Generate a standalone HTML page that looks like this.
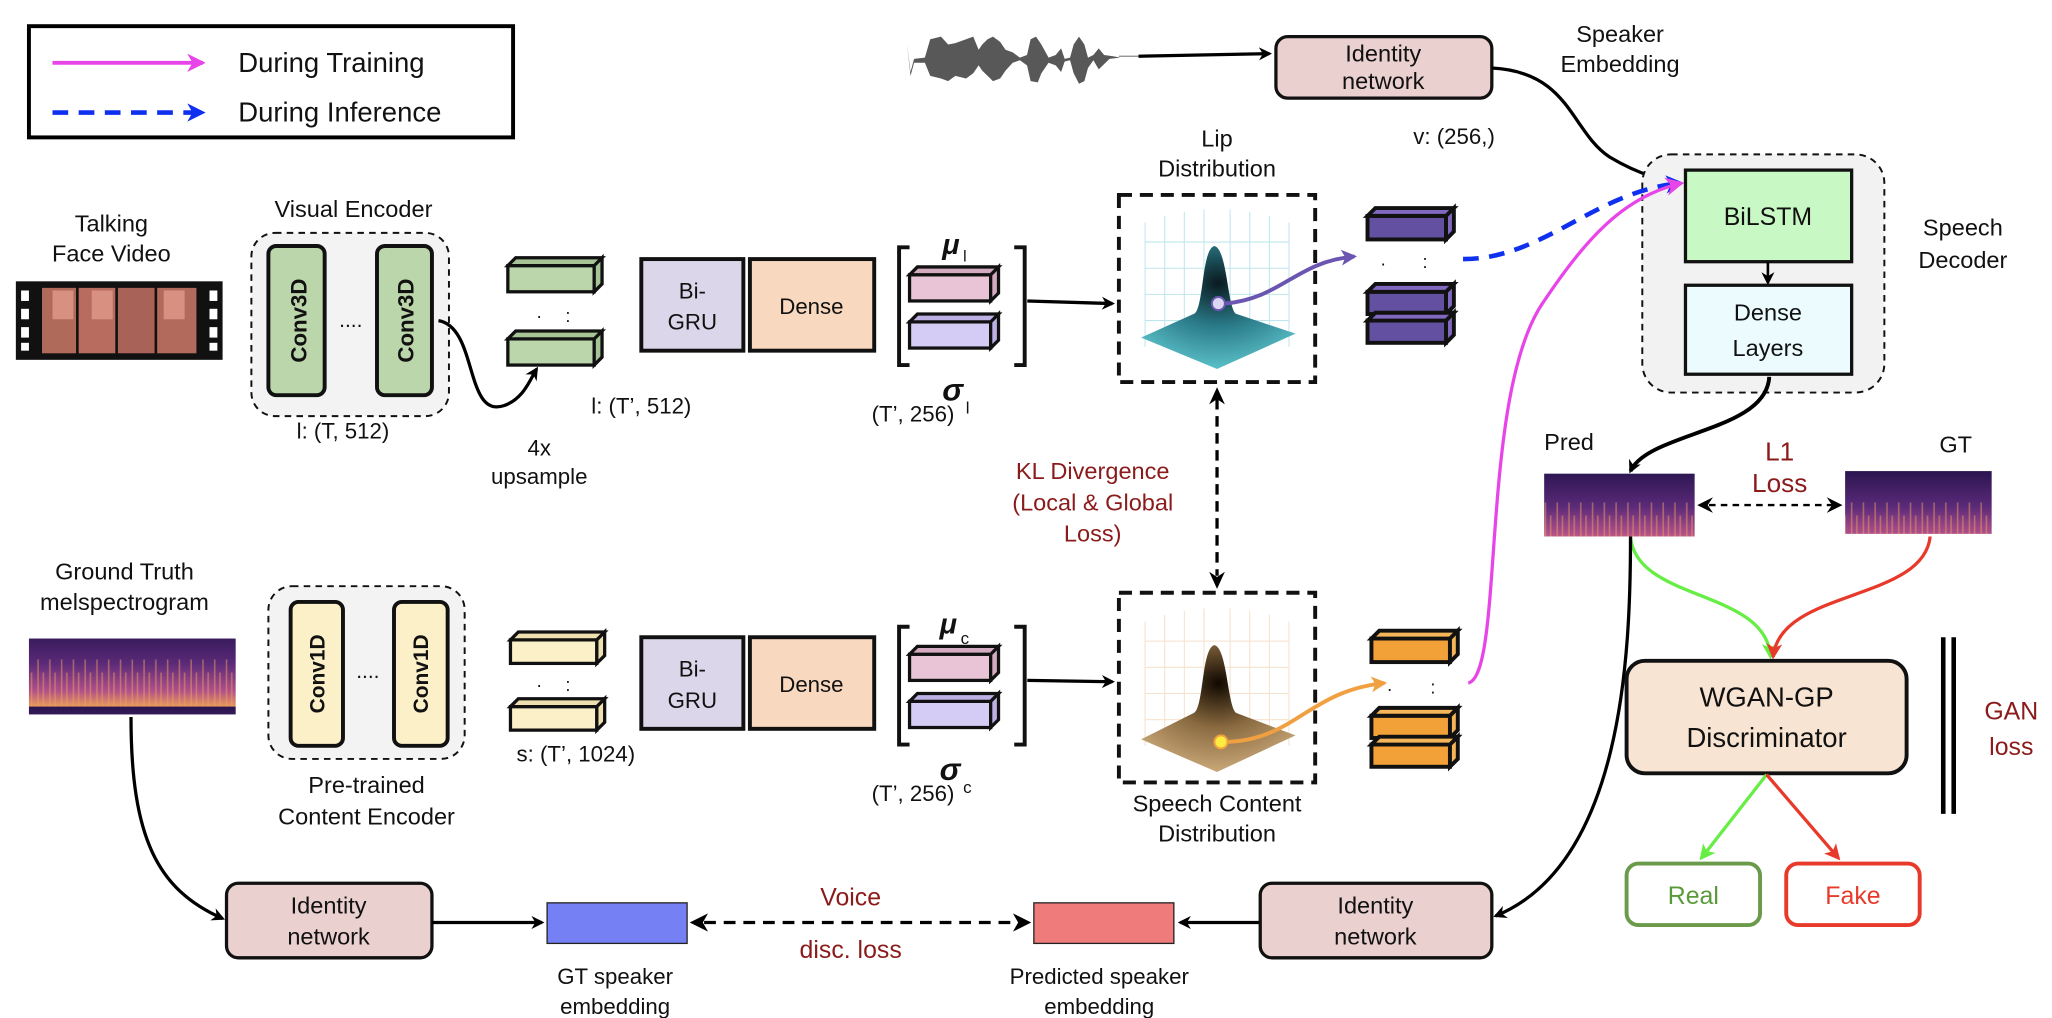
<!DOCTYPE html>
<html><head><meta charset="utf-8"><style>
html,body{margin:0;padding:0;background:#fff}
svg{display:block}
text{font-family:"Liberation Sans","DejaVu Sans",sans-serif;fill:#111}
.r{fill:#8b1a1a}
</style></head><body>
<svg width="2052" height="1018" viewBox="0 0 1568 778" xmlns="http://www.w3.org/2000/svg">
<defs>
<marker id="ak" markerWidth="10" markerHeight="10" refX="8" refY="5" orient="auto" markerUnits="userSpaceOnUse"><path d="M0,0 L10,5 L0,10 L3,5z" fill="#000"/></marker>
<marker id="am" markerWidth="14" markerHeight="14" refX="12" refY="7" orient="auto" markerUnits="userSpaceOnUse"><path d="M0,0 L14,7 L0,14 L4,7z" fill="#e845e8"/></marker>
<marker id="ab" markerWidth="14" markerHeight="14" refX="12" refY="7" orient="auto" markerUnits="userSpaceOnUse"><path d="M0,0 L14,7 L0,14 L4,7z" fill="#1030f0"/></marker>
<marker id="ag" markerWidth="12" markerHeight="12" refX="10" refY="6" orient="auto" markerUnits="userSpaceOnUse"><path d="M0,0 L12,6 L0,12 L3,6z" fill="#66ee44"/></marker>
<marker id="ar" markerWidth="12" markerHeight="12" refX="10" refY="6" orient="auto" markerUnits="userSpaceOnUse"><path d="M0,0 L12,6 L0,12 L3,6z" fill="#e83a2a"/></marker>
<marker id="ap" markerWidth="12" markerHeight="12" refX="10" refY="6" orient="auto" markerUnits="userSpaceOnUse"><path d="M0,0 L12,6 L0,12 L3,6z" fill="#6a55b0"/></marker>
<marker id="ao" markerWidth="12" markerHeight="12" refX="10" refY="6" orient="auto" markerUnits="userSpaceOnUse"><path d="M0,0 L12,6 L0,12 L3,6z" fill="#f0a040"/></marker>
<linearGradient id="mel" x1="0" x2="0" y1="0" y2="1"><stop offset="0" stop-color="#2a1550"/><stop offset="0.45" stop-color="#5a2a78"/><stop offset="0.8" stop-color="#b0508a"/><stop offset="1" stop-color="#e89a5a"/></linearGradient>
<pattern id="melp" width="9" height="60" patternUnits="userSpaceOnUse"><rect width="9" height="60" fill="url(#mel)"/><path d="M2,24 v36 M6,34 v26" stroke="#f0a060" stroke-width="1.2" opacity="0.5"/></pattern>
<radialGradient id="lipg" cx="0.5" cy="0.3" r="0.7"><stop offset="0" stop-color="#0a1a20"/><stop offset="0.5" stop-color="#2a7a88"/><stop offset="1" stop-color="#5ac0c8"/></radialGradient>
<radialGradient id="spg" cx="0.5" cy="0.3" r="0.7"><stop offset="0" stop-color="#100800"/><stop offset="0.5" stop-color="#8a6a40"/><stop offset="1" stop-color="#c8a878"/></radialGradient>
</defs>

<!-- Legend -->
<rect x="22" y="20" width="370" height="85" fill="#fff" stroke="#000" stroke-width="3"/>
<line x1="40" y1="48" x2="155" y2="48" stroke="#e845e8" stroke-width="3" marker-end="url(#am)"/>
<line x1="40" y1="86" x2="155" y2="86" stroke="#1030f0" stroke-width="3.5" stroke-dasharray="12,8" marker-end="url(#ab)"/>
<text x="182" y="55" font-size="21">During Training</text>
<text x="182" y="93" font-size="21">During Inference</text>

<!-- waveform -->
<g fill="#585858" transform="translate(693,0) scale(1.37,1) translate(-693,0)">
<path d="M693,33 L695,55 L697,45 L703,44 L706,30 L712,28 L716,34 L720,33 L726,30 L730,28 L733,38 L735,34 L738,30 L741,28 L745,32 L748,38 L752,40 L756,44 L760,42 L762,30 L765,28 L768,34 L772,44 L776,42 L779,37 L781,45 L784,44 L786,34 L789,28 L792,34 L794,44 L797,42 L800,37 L803,42 L808,43 L812,44 L806,45 L803,49 L800,53 L797,46 L794,52 L792,62 L789,64 L786,56 L784,46 L781,47 L779,55 L776,50 L772,48 L768,56 L766,63 L762,62 L760,50 L756,46 L752,48 L748,54 L745,60 L741,62 L738,58 L735,54 L733,50 L730,56 L726,60 L720,58 L716,62 L712,60 L706,58 L703,48 L697,48 L695,58 Z"/>
</g>
<line x1="855" y1="43" x2="870" y2="43" stroke="#888" stroke-width="1"/>
<line x1="870" y1="43" x2="970" y2="41" stroke="#000" stroke-width="2.5" marker-end="url(#ak)"/>

<!-- identity top -->
<rect x="975" y="28" width="165" height="47" rx="9" fill="#ead0cf" stroke="#111" stroke-width="2.5"/>
<text x="1057" y="47" font-size="18" text-anchor="middle">Identity</text>
<text x="1057" y="68" font-size="18" text-anchor="middle">network</text>
<text x="1238" y="32" font-size="18" text-anchor="middle">Speaker</text>
<text x="1238" y="55" font-size="18" text-anchor="middle">Embedding</text>
<text x="1080" y="110" font-size="17">v: (256,)</text>
<path d="M1140,52 C1200,55 1200,100 1230,120 C1250,132 1268,138 1286,140" stroke="#000" stroke-width="2.5" fill="none" marker-end="url(#ak)"/>

<!-- speech decoder -->
<rect x="1255" y="118" width="185" height="182" rx="22" fill="#f2f2f2" stroke="#111" stroke-width="1.5" stroke-dasharray="5,4"/>
<rect x="1288" y="130" width="127" height="70" fill="#c8f8c4" stroke="#111" stroke-width="2.5"/>
<text x="1351" y="172" font-size="19" text-anchor="middle">BiLSTM</text>
<line x1="1351" y1="200" x2="1351" y2="216" stroke="#000" stroke-width="2" marker-end="url(#ak)"/>
<rect x="1288" y="218" width="127" height="68" fill="#ecfcfe" stroke="#111" stroke-width="2.5"/>
<text x="1351" y="245" font-size="18" text-anchor="middle">Dense</text>
<text x="1351" y="272" font-size="18" text-anchor="middle">Layers</text>
<text x="1500" y="180" font-size="18" text-anchor="middle">Speech</text>
<text x="1500" y="205" font-size="18" text-anchor="middle">Decoder</text>

<!-- visual row -->
<text x="85" y="177" font-size="18" text-anchor="middle">Talking</text>
<text x="85" y="200" font-size="18" text-anchor="middle">Face Video</text>
<rect x="12" y="215" width="158" height="60" fill="#111"/>
<rect x="32" y="220" width="26" height="50" fill="#b06a5a"/><rect x="60" y="220" width="28" height="50" fill="#b86c60"/>
<rect x="90" y="220" width="28" height="50" fill="#a86258"/><rect x="120" y="220" width="30" height="50" fill="#b26a5c"/>
<rect x="40" y="222" width="16" height="22" fill="#d89080"/><rect x="70" y="222" width="16" height="22" fill="#d89080"/><rect x="125" y="222" width="16" height="22" fill="#d89080"/>
<g fill="#fff"><rect x="16" y="222" width="6" height="8"/><rect x="16" y="236" width="6" height="8"/><rect x="16" y="250" width="6" height="8"/><rect x="16" y="262" width="6" height="6"/><rect x="160" y="222" width="6" height="8"/><rect x="160" y="236" width="6" height="8"/><rect x="160" y="250" width="6" height="8"/><rect x="160" y="262" width="6" height="6"/></g>

<text x="270" y="166" font-size="18" text-anchor="middle">Visual Encoder</text>
<rect x="192" y="178" width="151" height="140" rx="18" fill="#f3f3f3" stroke="#111" stroke-width="1.5" stroke-dasharray="5,4"/>
<rect x="205" y="188" width="43" height="114" rx="6" fill="#bcd6ac" stroke="#111" stroke-width="3"/>
<rect x="288" y="188" width="42" height="114" rx="6" fill="#bcd6ac" stroke="#111" stroke-width="3"/>
<text transform="translate(234,245) rotate(-90)" font-size="17" font-weight="bold" text-anchor="middle">Conv3D</text>
<text transform="translate(316,245) rotate(-90)" font-size="17" font-weight="bold" text-anchor="middle">Conv3D</text>
<text x="268" y="250" font-size="16" text-anchor="middle">....</text>
<text x="262" y="335" font-size="17" text-anchor="middle">l: (T, 512)</text>

<g stroke="#111" stroke-width="2.5">
<rect x="388" y="203" width="66" height="20" fill="#bcd6ac"/><path d="M388,203 l6,-6 h66 l-6,6 z M454,223 l6,-6 v-20 l-6,6 z" fill="#a6c496"/>
<rect x="388" y="259" width="66" height="20" fill="#bcd6ac"/><path d="M388,259 l6,-6 h66 l-6,6 z M454,279 l6,-6 v-20 l-6,6 z" fill="#a6c496"/>
</g>
<text x="410" y="243" font-size="14">.</text><text x="432" y="246" font-size="14">:</text>
<path d="M335,245 C365,250 355,320 385,310 C400,305 405,290 410,282" stroke="#000" stroke-width="2.5" fill="none" marker-end="url(#ak)"/>
<text x="490" y="316" font-size="17" text-anchor="middle">l: (T’, 512)</text>
<text x="412" y="348" font-size="17" text-anchor="middle">4x</text>
<text x="412" y="370" font-size="17" text-anchor="middle">upsample</text>

<rect x="490" y="198" width="78" height="70" fill="#dcd6ea" stroke="#111" stroke-width="3"/>
<text x="529" y="228" font-size="17" text-anchor="middle">Bi-</text><text x="529" y="252" font-size="17" text-anchor="middle">GRU</text>
<rect x="573" y="198" width="95" height="70" fill="#f8d8bf" stroke="#111" stroke-width="3"/>
<text x="620" y="240" font-size="17" text-anchor="middle">Dense</text>

<path d="M695,189 h-8 v90 h8 M775,189 h8 v90 h-8" stroke="#111" stroke-width="3" fill="none"/>
<g stroke="#111" stroke-width="2.5">
<rect x="695" y="210" width="62" height="20" fill="#e8c4d6"/><path d="M695,210 l6,-6 h62 l-6,6 z M757,230 l6,-6 v-20 l-6,6 z" fill="#d4aac0"/>
<rect x="695" y="246" width="62" height="20" fill="#d4ccf4"/><path d="M695,246 l6,-6 h62 l-6,6 z M757,266 l6,-6 v-20 l-6,6 z" fill="#bcb0e4"/>
</g>
<text x="720" y="194" font-size="22" font-weight="bold" font-style="italic">μ</text><text x="736" y="200" font-size="12">l</text>
<text x="720" y="306" font-size="24" font-weight="bold" font-style="italic">σ</text><text x="738" y="316" font-size="13">l</text>
<text x="666" y="322" font-size="17">(T’, 256)</text>
<line x1="785" y1="230" x2="850" y2="232" stroke="#000" stroke-width="2.5" marker-end="url(#ak)"/>

<!-- lip dist -->
<text x="930" y="112" font-size="18" text-anchor="middle">Lip</text>
<text x="930" y="135" font-size="18" text-anchor="middle">Distribution</text>
<rect x="855" y="149" width="150" height="143" fill="#fff" stroke="#111" stroke-width="3" stroke-dasharray="10,6"/>
<g stroke="#bfe6ee" stroke-width="0.8" fill="none"><path d="M875,170 v95 M890,165 v95 M905,162 v95 M920,160 v95 M940,160 v95 M955,162 v95 M970,165 v95 M985,170 v95 M875,185 h110 M875,205 h110 M875,225 h110 M875,245 h110"/></g>
<path d="M872,258 L930,282 L990,255 L945,240 C938,238 938,190 928,188 C918,190 920,238 912,240 Z" fill="url(#lipg)"/>
<circle cx="931" cy="232" r="5" fill="#ddd6f0" stroke="#6a55b0" stroke-width="1.5"/>
<path d="M936,232 C980,228 990,200 1035,196" stroke="#6a55b0" stroke-width="3" fill="none" marker-end="url(#ap)"/>
<g stroke="#111" stroke-width="3">
<rect x="1045" y="165" width="60" height="18" fill="#6350a0"/><path d="M1045,165 l6,-6 h60 l-6,6 z M1105,183 l6,-6 v-18 l-6,6 z" fill="#8068c0"/>
<rect x="1045" y="223" width="60" height="17" fill="#6350a0"/><path d="M1045,223 l6,-6 h60 l-6,6 z M1105,240 l6,-6 v-17 l-6,6 z" fill="#8068c0"/>
<rect x="1045" y="245" width="60" height="17" fill="#6350a0"/><path d="M1045,245 l6,-6 h60 l-6,6 z M1105,262 l6,-6 v-17 l-6,6 z" fill="#8068c0"/>
</g>
<text x="1055" y="203" font-size="14">.</text><text x="1087" y="205" font-size="14">:</text>
<path d="M1118,198 C1180,198 1220,145 1285,140" stroke="#1030f0" stroke-width="3.5" fill="none" stroke-dasharray="12,8" marker-end="url(#ab)"/>

<!-- KL -->
<text x="835" y="366" font-size="18" text-anchor="middle" class="r">KL Divergence</text>
<text x="835" y="390" font-size="18" text-anchor="middle" class="r">(Local &amp; Global</text>
<text x="835" y="414" font-size="18" text-anchor="middle" class="r">Loss)</text>
<line x1="930" y1="305" x2="930" y2="440" stroke="#000" stroke-width="2.5" stroke-dasharray="8,5"/>
<path d="M930,296 l-6,13 l6,-4 l6,4z M930,450 l-6,-13 l6,4 l6,-4z" fill="#000"/>

<!-- speech dist -->
<rect x="855" y="453" width="150" height="145" fill="#fff" stroke="#111" stroke-width="3" stroke-dasharray="10,6"/>
<g stroke="#f6e2cc" stroke-width="0.8" fill="none"><path d="M875,475 v95 M890,470 v95 M905,467 v95 M920,465 v95 M940,465 v95 M955,467 v95 M970,470 v95 M985,475 v95 M875,490 h110 M875,510 h110 M875,530 h110 M875,550 h110"/></g>
<path d="M872,565 L930,590 L990,562 L945,545 C938,542 938,495 928,493 C918,495 920,542 912,545 Z" fill="url(#spg)"/>
<circle cx="933" cy="567" r="5" fill="#ffec40" stroke="#f0a040" stroke-width="1.5"/>
<path d="M938,567 C990,565 1000,528 1058,522" stroke="#f0a040" stroke-width="3" fill="none" marker-end="url(#ao)"/>
<text x="930" y="620" font-size="18" text-anchor="middle">Speech Content</text>
<text x="930" y="643" font-size="18" text-anchor="middle">Distribution</text>
<g stroke="#111" stroke-width="3">
<rect x="1048" y="488" width="60" height="18" fill="#f2a038"/><path d="M1048,488 l6,-6 h60 l-6,6 z M1108,506 l6,-6 v-18 l-6,6 z" fill="#f4b458"/>
<rect x="1048" y="547" width="60" height="17" fill="#f2a038"/><path d="M1048,547 l6,-6 h60 l-6,6 z M1108,564 l6,-6 v-17 l-6,6 z" fill="#f4b458"/>
<rect x="1048" y="569" width="60" height="17" fill="#f2a038"/><path d="M1048,569 l6,-6 h60 l-6,6 z M1108,586 l6,-6 v-17 l-6,6 z" fill="#f4b458"/>
</g>
<text x="1060" y="528" font-size="14">.</text><text x="1093" y="530" font-size="14">:</text>
<path d="M1122,522 C1150,515 1130,300 1180,230 C1210,185 1240,150 1285,140" stroke="#e845e8" stroke-width="2.5" fill="none" marker-end="url(#am)"/>

<!-- content row -->
<text x="95" y="443" font-size="18" text-anchor="middle">Ground Truth</text>
<text x="95" y="466" font-size="18" text-anchor="middle">melspectrogram</text>
<rect x="22" y="488" width="158" height="58" fill="url(#melp)"/>
<rect x="205" y="448" width="150" height="132" rx="18" fill="#f3f3f3" stroke="#111" stroke-width="1.5" stroke-dasharray="5,4"/>
<rect x="222" y="460" width="40" height="110" rx="6" fill="#fbf0c8" stroke="#111" stroke-width="3"/>
<rect x="301" y="460" width="41" height="110" rx="6" fill="#fbf0c8" stroke="#111" stroke-width="3"/>
<text transform="translate(248,515) rotate(-90)" font-size="16" font-weight="bold" text-anchor="middle">Conv1D</text>
<text transform="translate(327,515) rotate(-90)" font-size="16" font-weight="bold" text-anchor="middle">Conv1D</text>
<text x="281" y="518" font-size="16" text-anchor="middle">....</text>
<text x="280" y="606" font-size="18" text-anchor="middle">Pre-trained</text>
<text x="280" y="630" font-size="18" text-anchor="middle">Content Encoder</text>
<g stroke="#111" stroke-width="2.5">
<rect x="390" y="489" width="66" height="18" fill="#fbf0c8"/><path d="M390,489 l6,-6 h66 l-6,6 z M456,507 l6,-6 v-18 l-6,6 z" fill="#efe0b0"/>
<rect x="390" y="540" width="66" height="18" fill="#fbf0c8"/><path d="M390,540 l6,-6 h66 l-6,6 z M456,558 l6,-6 v-18 l-6,6 z" fill="#efe0b0"/>
</g>
<text x="410" y="525" font-size="14">.</text><text x="432" y="528" font-size="14">:</text>
<text x="440" y="582" font-size="17" text-anchor="middle">s: (T’, 1024)</text>
<rect x="490" y="487" width="78" height="70" fill="#dcd6ea" stroke="#111" stroke-width="3"/>
<text x="529" y="517" font-size="17" text-anchor="middle">Bi-</text><text x="529" y="541" font-size="17" text-anchor="middle">GRU</text>
<rect x="573" y="487" width="95" height="70" fill="#f8d8bf" stroke="#111" stroke-width="3"/>
<text x="620" y="529" font-size="17" text-anchor="middle">Dense</text>
<path d="M695,479 h-8 v90 h8 M775,479 h8 v90 h-8" stroke="#111" stroke-width="3" fill="none"/>
<g stroke="#111" stroke-width="2.5">
<rect x="695" y="500" width="62" height="20" fill="#e8c4d6"/><path d="M695,500 l6,-6 h62 l-6,6 z M757,520 l6,-6 v-20 l-6,6 z" fill="#d4aac0"/>
<rect x="695" y="536" width="62" height="20" fill="#d4ccf4"/><path d="M695,536 l6,-6 h62 l-6,6 z M757,556 l6,-6 v-20 l-6,6 z" fill="#bcb0e4"/>
</g>
<text x="718" y="484" font-size="22" font-weight="bold" font-style="italic">μ</text><text x="734" y="492" font-size="13">c</text>
<text x="718" y="596" font-size="24" font-weight="bold" font-style="italic">σ</text><text x="736" y="606" font-size="13">c</text>
<text x="666" y="612" font-size="17">(T’, 256)</text>
<line x1="785" y1="520" x2="850" y2="521" stroke="#000" stroke-width="2.5" marker-end="url(#ak)"/>

<!-- Pred / GT -->
<text x="1180" y="344" font-size="18">Pred</text>
<text x="1360" y="352" font-size="20" text-anchor="middle" class="r">L1</text>
<text x="1360" y="376" font-size="20" text-anchor="middle" class="r">Loss</text>
<text x="1482" y="346" font-size="18">GT</text>
<rect x="1180" y="362" width="115" height="48" fill="url(#melp)"/>
<rect x="1410" y="360" width="112" height="48" fill="url(#melp)"/>
<line x1="1306" y1="386" x2="1400" y2="386" stroke="#000" stroke-width="1.8" stroke-dasharray="5,4"/>
<path d="M1297,386 l12,-6 l-4,6 l4,6z M1408,386 l-12,-6 l4,6 l-4,6z" fill="#000"/>
<path d="M1352,288 C1350,330 1260,330 1246,360" stroke="#000" stroke-width="3" fill="none" marker-end="url(#ak)"/>
<path d="M1246,410 C1250,460 1350,450 1353,502" stroke="#66ee44" stroke-width="2.5" fill="none" marker-end="url(#ag)"/>
<path d="M1475,410 C1470,460 1360,450 1355,502" stroke="#e83a2a" stroke-width="2.5" fill="none" marker-end="url(#ar)"/>
<path d="M1246,410 C1246,500 1240,660 1143,700" stroke="#000" stroke-width="2.5" fill="none" marker-end="url(#ak)"/>

<rect x="1243" y="505" width="214" height="86" rx="14" fill="#f8e4d2" stroke="#111" stroke-width="3"/>
<text x="1350" y="540" font-size="21" text-anchor="middle">WGAN-GP</text>
<text x="1350" y="571" font-size="21" text-anchor="middle">Discriminator</text>
<path d="M1485,487 v135 M1493,487 v135" stroke="#000" stroke-width="3.5"/>
<text x="1537" y="550" font-size="19" text-anchor="middle" class="r">GAN</text>
<text x="1537" y="577" font-size="19" text-anchor="middle" class="r">loss</text>
<line x1="1350" y1="592" x2="1300" y2="656" stroke="#66ee44" stroke-width="2.5" marker-end="url(#ag)"/>
<line x1="1350" y1="592" x2="1405" y2="656" stroke="#e83a2a" stroke-width="2.5" marker-end="url(#ar)"/>
<rect x="1243" y="660" width="102" height="47" rx="9" fill="#fff" stroke="#6a9a4a" stroke-width="3"/>
<text x="1294" y="691" font-size="19" text-anchor="middle" style="fill:#5a9a3a">Real</text>
<rect x="1365" y="660" width="102" height="47" rx="9" fill="#fff" stroke="#e83a2a" stroke-width="3"/>
<text x="1416" y="691" font-size="19" text-anchor="middle" style="fill:#e83a2a">Fake</text>

<!-- bottom row -->
<path d="M100,548 C100,640 120,680 170,702" stroke="#000" stroke-width="2.5" fill="none" marker-end="url(#ak)"/>
<rect x="173" y="675" width="157" height="57" rx="9" fill="#ead0cf" stroke="#111" stroke-width="2.5"/>
<text x="251" y="698" font-size="18" text-anchor="middle">Identity</text>
<text x="251" y="722" font-size="18" text-anchor="middle">network</text>
<line x1="330" y1="705" x2="414" y2="705" stroke="#000" stroke-width="2.5" marker-end="url(#ak)"/>
<rect x="418" y="690" width="107" height="31" fill="#7680f5" stroke="#222" stroke-width="1"/>
<text x="470" y="752" font-size="17" text-anchor="middle">GT speaker</text>
<text x="470" y="775" font-size="17" text-anchor="middle">embedding</text>
<line x1="538" y1="705" x2="778" y2="705" stroke="#000" stroke-width="2.5" stroke-dasharray="9,6"/>
<path d="M527,705 l14,-7 l-4,7 l4,7z M788,705 l-14,-7 l4,7 l-4,7z" fill="#000"/>
<text x="650" y="692" font-size="19" text-anchor="middle" class="r">Voice</text>
<text x="650" y="732" font-size="19" text-anchor="middle" class="r">disc. loss</text>
<rect x="790" y="690" width="107" height="31" fill="#ef7b7b" stroke="#222" stroke-width="1"/>
<text x="840" y="752" font-size="17" text-anchor="middle">Predicted speaker</text>
<text x="840" y="775" font-size="17" text-anchor="middle">embedding</text>
<line x1="963" y1="705" x2="902" y2="705" stroke="#000" stroke-width="2.5" marker-end="url(#ak)"/>
<rect x="963" y="675" width="177" height="57" rx="9" fill="#ead0cf" stroke="#111" stroke-width="2.5"/>
<text x="1051" y="698" font-size="18" text-anchor="middle">Identity</text>
<text x="1051" y="722" font-size="18" text-anchor="middle">network</text>
</svg>
</body></html>
